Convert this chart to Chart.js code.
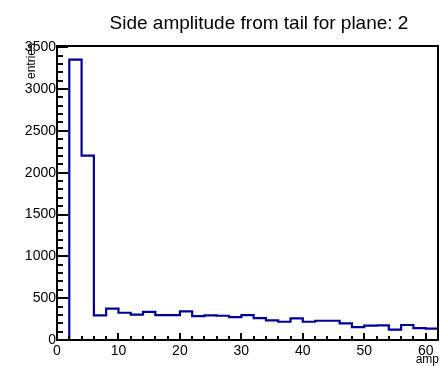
<!DOCTYPE html>
<html lang="en">
<meta charset="utf-8" />
<title>Side amplitude from tail for plane: 2</title>
<script src="https://cdn.jsdelivr.net/npm/chart.js@4.4.1"></script>

<style>
*{box-sizing:border-box}
body{margin:0;background:#fff}
canvas{display:block}
</style>

<body>
<canvas id="chart" width="440" height="366"></canvas>

<script>
/*-- histogram: low edge of each bin (width 2) and its entries --*/
const BIN_WIDTH = 2;
const binLow = [0,2,4,6,8,10,12,14,16,18,20,22,24,26,28,30,32,34,36,38,40,42,44,46,48,50,52,54,56,58,60];
const entries = [0,3350,2204,295,376,326,304,336,298,298,342,286,295,290,274,298,262,235,218,259,218,230,230,199,155,171,175,123,179,143,135];

/*-- labelled ticks --*/
const xTicks = [0,10,20,30,40,50,60];
const yTicks = [0,500,1000,1500,2000,2500,3000,3500];

const TITLE  = 'Side amplitude from tail for plane: 2';
const XTITLE = 'amp';
const YTITLE = 'entries';

const X_MAX = 62, Y_MAX = 3514;
const FONT = '"Liberation Sans", Arial, sans-serif';

/* step points: one per bin, plus the closing right edge */
const pts = binLow.map((x, i) => ({ x, y: entries[i] }));
pts.push({ x: binLow[binLow.length - 1] + BIN_WIDTH, y: entries[entries.length - 1] });

/* ROOT-style frame: inward major/minor ticks and axis titles */
const rootFrame = {
  id: 'rootFrame',
  afterDraw(c) {
    const { ctx, chartArea: a, scales: { x, y } } = c;
    ctx.save();
    ctx.strokeStyle = '#000';
    ctx.lineWidth = 2;
    ctx.strokeRect(a.left, a.top, a.right - a.left, a.bottom - a.top);

    ctx.beginPath();
    for (let v = 0; v <= Y_MAX; v += 100) {
      const py = Math.round(y.getPixelForValue(v));
      const len = v % 500 === 0 ? 11 : 6;
      ctx.moveTo(a.left, py); ctx.lineTo(a.left + len, py);
    }
    for (let v = 0; v <= X_MAX; v += 2) {
      const px = Math.round(x.getPixelForValue(v));
      const len = v % 10 === 0 ? 7 : 4;
      ctx.moveTo(px, a.bottom); ctx.lineTo(px, a.bottom - len);
    }
    ctx.stroke();

    ctx.fillStyle = '#000';
    ctx.font = '19px ' + FONT;
    ctx.textAlign = 'center';
    ctx.textBaseline = 'alphabetic';
    ctx.fillText(TITLE, 259, 29);

    ctx.font = '12px ' + FONT;
    ctx.textAlign = 'right';
    ctx.fillText(XTITLE, a.right + 1, 363);

    ctx.translate(35, a.top - 3);
    ctx.rotate(-Math.PI / 2);
    ctx.fillText(YTITLE, 0, 0);
    ctx.restore();
  }
};

const tickFont = { family: FONT, size: 14 };

new Chart(document.getElementById('chart'), {
  type: 'line',
  data: {
    datasets: [{
      data: pts,
      stepped: 'before',
      borderColor: '#00009a',
      borderWidth: 2.2,
      pointRadius: 0,
      fill: false
    }]
  },
  options: {
    responsive: false,
    animation: false,
    layout: { padding: { top: 46, right: 2, left: 0, bottom: 0 } },
    plugins: { legend: { display: false }, title: { display: false }, tooltip: { enabled: false } },
    scales: {
      x: {
        type: 'linear', min: 0, max: X_MAX,
        grid: { display: false, drawTicks: false },
        border: { display: false },
        afterBuildTicks(s) { s.ticks = xTicks.map(value => ({ value })); },
        ticks: { autoSkip: false, maxRotation: 0, padding: 3, color: '#000', font: tickFont, callback: v => String(v) },
        afterFit(s) { s.height = 26; }
      },
      y: {
        min: 0, max: Y_MAX,
        grid: { display: false, drawTicks: false },
        border: { display: false },
        afterBuildTicks(s) { s.ticks = yTicks.map(value => ({ value })); },
        ticks: { autoSkip: false, padding: 1, color: '#000', font: tickFont, callback: v => String(v) },
        afterFit(s) { s.width = 57; }
      }
    }
  },
  plugins: [rootFrame]
});
</script>
</body>
</html>
